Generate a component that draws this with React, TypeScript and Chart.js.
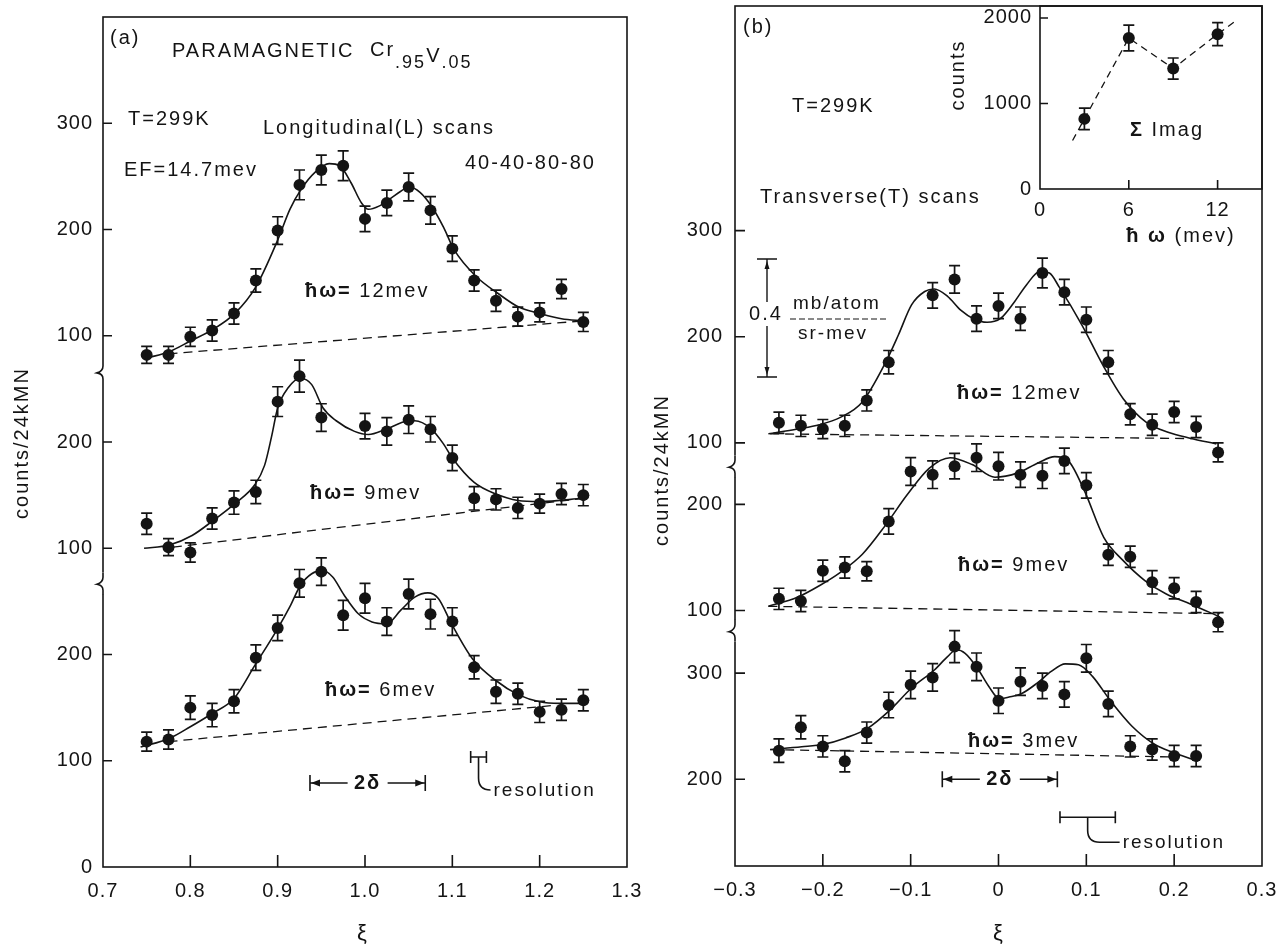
import React, { useEffect, useRef } from "react";
import { Chart, registerables } from "chart.js";

Chart.register(...registerables);

const FONT = '"Liberation Sans", Arial, Helvetica, sans-serif';
const INK = "#141414";

// ================= Panel (a): longitudinal scans =================
const XI_A = [0.75, 0.775, 0.8, 0.825, 0.85, 0.875, 0.9, 0.925, 0.95, 0.975, 1.0, 1.025, 1.05, 1.075, 1.1, 1.125, 1.15, 1.175, 1.2, 1.225, 1.25];
const XI_A9 = [0.75, 0.775, 0.8, 0.825, 0.85, 0.875, 0.9, 0.925, 0.95, 1.0, 1.025, 1.05, 1.075, 1.1, 1.125, 1.15, 1.175, 1.2, 1.225, 1.25];

// hw = 12 meV
const COUNTS_A12 = [82, 82, 99, 105, 121, 152, 199, 242, 256, 260, 210, 225, 240, 218, 182, 152, 133, 118, 122, 144, 113];
const ERR_A12 = [8, 8, 9, 10, 10, 11, 13, 14, 14, 14, 12, 12, 13, 13, 12, 10, 10, 9, 9, 9, 9];
const FIT_XI_A12 = [0.75, 0.776, 0.8, 0.826, 0.851, 0.875, 0.9, 0.914, 0.927, 0.943, 0.959, 0.971, 0.984, 0.996, 1.004, 1.016, 1.029, 1.041, 1.051, 1.063, 1.077, 1.09, 1.102, 1.127, 1.152, 1.176, 1.2, 1.225, 1.25];
const FIT_A12 = [79, 85, 95, 106, 121, 146, 190, 219, 238, 254, 262, 260, 244, 225, 219, 222, 229, 236, 240, 235, 221, 202, 181, 156, 140, 127, 121, 116, 114];
const BASE_XI_A12 = [0.775, 1.25];
const BASE_A12 = [83, 114];

// hw = 9 meV
const COUNTS_A9 = [123, 101, 96, 128, 143, 153, 238, 262, 223, 215, 210, 221, 212, 185, 147, 146, 138, 142, 151, 150];
const ERR_A9 = [10, 8, 9, 10, 11, 11, 14, 15, 13, 12, 13, 13, 12, 12, 11, 10, 10, 9, 10, 10];
const FIT_XI_A9 = [0.747, 0.776, 0.802, 0.826, 0.851, 0.874, 0.885, 0.893, 0.9, 0.912, 0.926, 0.939, 0.952, 0.967, 0.988, 1.004, 1.024, 1.045, 1.057, 1.075, 1.09, 1.1, 1.125, 1.15, 1.175, 1.2, 1.25];
const FIT_A9 = [100, 103, 112, 126, 142, 160, 178, 205, 232, 251, 260, 254, 232, 220, 210, 207, 212, 219, 220, 213, 198, 185, 162, 151, 145, 144, 147];
const BASE_XI_A9 = [0.78, 1.25];
const BASE_A9 = [101, 147];

// hw = 6 meV
const COUNTS_A6 = [118, 120, 150, 143, 156, 197, 225, 267, 278, 237, 253, 231, 257, 238, 231, 188, 165, 163, 146, 148, 157];
const ERR_A6 = [9, 9, 11, 11, 11, 12, 12, 13, 13, 14, 14, 13, 14, 14, 13, 11, 11, 10, 10, 10, 10];
const FIT_XI_A6 = [0.743, 0.776, 0.8, 0.825, 0.85, 0.874, 0.899, 0.914, 0.926, 0.939, 0.951, 0.963, 0.976, 0.992, 1.008, 1.025, 1.041, 1.057, 1.072, 1.084, 1.099, 1.123, 1.149, 1.176, 1.2, 1.223, 1.25];
const FIT_A6 = [113, 121, 132, 144.5, 158.6, 190, 223, 245, 265, 276, 279, 273, 256, 238.6, 230.7, 229, 241.7, 254, 258, 252.7, 229, 196, 176, 162, 155.5, 154, 154];
const BASE_XI_A6 = [0.775, 1.215];
const BASE_A6 = [118, 152];

const X_TICKS_A = [0.7, 0.8, 0.9, 1.0, 1.1, 1.2, 1.3];
const X_LABELS_A = ["0.7", "0.8", "0.9", "1.0", "1.1", "1.2", "1.3"];
const Y_TICKS_A = [0, 100, 200, 300, 400, 500, 600, 700];
const Y_LABELS_A = ["0", "100", "200", "100", "200", "100", "200", "300"];
const OFFSETS_A = [0, 200, 400]; // 6, 9, 12 meV scans stacked
const BREAKS_A = [267, 466];

// ================= Panel (b): transverse scans =================
const XI_B = [-0.25, -0.225, -0.2, -0.175, -0.15, -0.125, -0.1, -0.075, -0.05, -0.025, 0, 0.025, 0.05, 0.075, 0.1, 0.125, 0.15, 0.175, 0.2, 0.225, 0.25];
const XI_B12 = [-0.25, -0.225, -0.2, -0.175, -0.15, -0.125, -0.075, -0.05, -0.025, 0, 0.025, 0.05, 0.075, 0.1, 0.125, 0.15, 0.175, 0.2, 0.225, 0.25];
const XI_B3 = [-0.25, -0.225, -0.2, -0.175, -0.15, -0.125, -0.1, -0.075, -0.05, -0.025, 0, 0.025, 0.05, 0.075, 0.1, 0.125, 0.15, 0.175, 0.2, 0.225];

// hw = 12 meV
const COUNTS_B12 = [119, 116, 113, 116, 140, 176, 239, 254, 217, 229, 217, 260, 242, 216, 176, 127, 117, 129, 115, 91];
const ERR_B12 = [10, 10, 9, 10, 10, 11, 12, 13, 12, 12, 11, 14, 12, 12, 11, 10, 10, 10, 10, 9];
const FIT_XI_B12 = [-0.262, -0.229, -0.204, -0.18, -0.155, -0.129, -0.114, -0.099, -0.084, -0.073, -0.058, -0.043, -0.028, -0.013, 0.002, 0.017, 0.032, 0.047, 0.058, 0.069, 0.095, 0.119, 0.142, 0.168, 0.193, 0.218, 0.248];
const FIT_B12 = [108.5, 113, 117, 124, 138.5, 175, 201.6, 230, 242.6, 245, 238, 225, 216.7, 213.6, 217, 231.5, 249, 261.5, 260, 247, 211, 173, 141.6, 119.6, 110, 104.4, 99];
const BASE_XI_B12 = [-0.26, 0.22];
const BASE_B12 = [108.5, 104];

// hw = 9 meV
const COUNTS_B9 = [111, 109, 137.5, 140.6, 137, 184, 231, 228, 236, 244, 236, 228, 227, 241, 218, 152.5, 150.6, 126.6, 121, 108, 89];
const ERR_B9 = [10, 10, 10, 10, 9, 12, 13, 13, 12, 13, 13, 12, 12, 12, 12, 10, 10, 11, 10, 10, 9];
const FIT_XI_B9 = [-0.262, -0.229, -0.204, -0.18, -0.155, -0.129, -0.104, -0.079, -0.055, -0.03, -0.004, 0.022, 0.045, 0.064, 0.08, 0.098, 0.12, 0.142, 0.167, 0.191, 0.219, 0.252];
const FIT_B9 = [104, 112.5, 123.4, 136, 153, 180, 209, 234, 244, 237.5, 225.6, 229.7, 239, 245, 240.6, 212.5, 168.75, 147, 128, 115.6, 106, 94];
const BASE_XI_B9 = [-0.262, 0.252];
const BASE_B9 = [104, 97];

// hw = 3 meV
const COUNTS_B3 = [227, 249, 231, 217, 244, 270, 289, 296, 325, 306, 274, 292, 288, 280, 314, 271, 231, 228, 222, 222];
const ERR_B3 = [11, 11, 10, 10, 10, 12, 13, 13, 15, 13, 12, 13, 12, 12, 13, 12, 10, 10, 10, 10];
const FIT_XI_B3 = [-0.26, -0.224, -0.199, -0.174, -0.149, -0.123, -0.099, -0.073, -0.058, -0.048, -0.038, -0.024, -0.011, 0.001, 0.012, 0.026, 0.044, 0.06, 0.076, 0.091, 0.107, 0.128, 0.152, 0.178, 0.2, 0.227];
const FIT_B3 = [228, 230.6, 233, 239, 248, 265.6, 286, 303, 315.6, 322, 318.75, 304.7, 287.5, 276, 277.5, 280.6, 290.6, 301.6, 308.75, 308, 297, 273.4, 250, 232.8, 225, 217];
const BASE_XI_B3 = [-0.26, 0.2];
const BASE_B3 = [228, 221];

const X_TICKS_B = [-0.3, -0.2, -0.1, 0, 0.1, 0.2, 0.3];
const X_LABELS_B = ["\u22120.3", "\u22120.2", "\u22120.1", "0", "0.1", "0.2", "0.3"];
const Y_TICKS_B = [200, 300, 359, 459, 517, 617, 717];
const Y_LABELS_B = ["200", "300", "100", "200", "100", "200", "300"];
const OFFSETS_B = [0, 259, 417]; // 3, 9, 12 meV scans stacked
const BREAKS_B = [340, 495];

// ================= Inset: integrated intensity =================
const INSET_HW = [3, 6, 9, 12];
const INSET_COUNTS = [820, 1766, 1409, 1811];
const INSET_ERR = [126, 150, 123, 134];
const INSET_LINE_HW = [2.2, 3, 6, 9, 12, 13.1];
const INSET_LINE = [567, 820, 1766, 1409, 1811, 1950];
const INSET_X_TICKS = [0, 6, 12];
const INSET_X_LABELS = ["0", "6", "12"];
const INSET_Y_TICKS = [0, 1000, 2000];
const INSET_Y_LABELS = ["0", "1000", "2000"];

// ================= helpers =================
function pts(xs: number[], ys: number[], off: number) {
  return xs.map((x, i) => ({ x, y: ys[i] + off }));
}

function scan(xs: number[], ys: number[], errs: number[], fx: number[], fy: number[], bx: number[], by: number[], off: number) {
  return [
    {
      type: "scatter",
      data: pts(xs, ys, off),
      errors: errs,
      pointRadius: 6,
      pointBackgroundColor: INK,
      pointBorderColor: INK,
      pointBorderWidth: 0,
      showLine: false,
    },
    {
      type: "line",
      data: pts(fx, fy, off),
      borderColor: INK,
      borderWidth: 1.6,
      pointRadius: 0,
      cubicInterpolationMode: "monotone",
      fill: false,
    },
    {
      type: "line",
      data: pts(bx, by, off),
      borderColor: INK,
      borderWidth: 1.3,
      borderDash: [9, 6],
      pointRadius: 0,
      tension: 0,
      fill: false,
    },
  ];
}

function axis(min: number, max: number, ticks: number[], labels: string[], padding: number, fit: (s: any) => void) {
  return {
    type: "linear",
    min,
    max,
    afterBuildTicks: (s: any) => {
      s.ticks = ticks.map((v) => ({ value: v }));
    },
    afterFit: (s: any) => {
      fit(s);
      s.paddingTop = 0;
      s.paddingBottom = 0;
      s.paddingLeft = 0;
      s.paddingRight = 0;
    },
    ticks: {
      autoSkip: false,
      maxRotation: 0,
      minRotation: 0,
      padding,
      color: INK,
      font: { family: FONT, size: 20 },
      callback: (_v: any, i: number) => labels[i],
    },
    grid: { display: false, drawTicks: false },
    border: { display: false },
  };
}

const errorBars = {
  id: "errorBars",
  afterDatasetsDraw(chart: any) {
    const ctx = chart.ctx;
    const y = chart.scales.y;
    chart.data.datasets.forEach((ds: any, i: number) => {
      if (!ds.errors) return;
      const meta = chart.getDatasetMeta(i);
      const cap = ds.capHalf ?? 5.5;
      ctx.save();
      ctx.strokeStyle = INK;
      ctx.lineWidth = 1.7;
      ctx.beginPath();
      meta.data.forEach((el: any, j: number) => {
        const v = ds.data[j].y;
        const t = y.getPixelForValue(v + ds.errors[j]);
        const b = y.getPixelForValue(v - ds.errors[j]);
        ctx.moveTo(el.x, t);
        ctx.lineTo(el.x, b);
        ctx.moveTo(el.x - cap, t);
        ctx.lineTo(el.x + cap, t);
        ctx.moveTo(el.x - cap, b);
        ctx.lineTo(el.x + cap, b);
      });
      ctx.stroke();
      ctx.restore();
    });
  },
};

function setFont(ctx: any, size: number, bold?: boolean) {
  ctx.font = `${bold ? "bold " : ""}${size}px ${FONT}`;
}

type Seg = [string, number, boolean?, number?];
function rich(ctx: any, segs: Seg[], x: number, y: number, align: string = "left") {
  let total = 0;
  const ws = segs.map(([t, s, b]) => {
    setFont(ctx, s, b);
    const w = ctx.measureText(t).width;
    total += w;
    return w;
  });
  let cx = align === "center" ? x - total / 2 : x;
  ctx.textAlign = "left";
  ctx.textBaseline = "middle";
  segs.forEach(([t, s, b, dy], i) => {
    setFont(ctx, s, b);
    ctx.fillText(t, cx, y + (dy || 0));
    cx += ws[i];
  });
}

function vtext(ctx: any, t: string, x: number, y: number, size: number) {
  ctx.save();
  ctx.translate(x, y);
  ctx.rotate(-Math.PI / 2);
  setFont(ctx, size);
  ctx.textAlign = "center";
  ctx.textBaseline = "middle";
  ctx.fillText(t, 0, 0);
  ctx.restore();
}

function innerTicks(ctx: any, chart: any, xt: number[], yt: number[], xl: number, yl: number) {
  const { left, right, top, bottom } = chart.chartArea;
  const x = chart.scales.x;
  const y = chart.scales.y;
  ctx.beginPath();
  xt.forEach((v) => {
    const px = x.getPixelForValue(v);
    if (px - left > 3 && right - px > 3) {
      ctx.moveTo(px, bottom);
      ctx.lineTo(px, bottom - xl);
    }
  });
  yt.forEach((v) => {
    const py = y.getPixelForValue(v);
    if (bottom - py > 3 && py - top > 3) {
      ctx.moveTo(left, py);
      ctx.lineTo(left + yl, py);
    }
  });
  ctx.stroke();
}

function axisBreak(ctx: any, X: number, py: number) {
  ctx.clearRect(X - 4, py - 11, 8, 22);
  ctx.beginPath();
  ctx.moveTo(X, py - 11);
  ctx.lineTo(X, py - 6);
  ctx.quadraticCurveTo(X, py - 1, X - 6, py + 1);
  ctx.quadraticCurveTo(X, py + 2, X, py + 7);
  ctx.lineTo(X, py + 11);
  ctx.stroke();
}

function arrowHead(ctx: any, x: number, y: number, dir: number) {
  ctx.beginPath();
  ctx.moveTo(x, y);
  ctx.lineTo(x - dir * 9, y - 3.5);
  ctx.lineTo(x - dir * 9, y + 3.5);
  ctx.closePath();
  ctx.fill();
}

function twoDelta(ctx: any, x1: number, x2: number, y: number) {
  const mid = (x1 + x2) / 2;
  ctx.beginPath();
  ctx.moveTo(x1, y - 8);
  ctx.lineTo(x1, y + 8);
  ctx.moveTo(x2, y - 8);
  ctx.lineTo(x2, y + 8);
  ctx.moveTo(x1, y);
  ctx.lineTo(mid - 20, y);
  ctx.moveTo(mid + 20, y);
  ctx.lineTo(x2, y);
  ctx.stroke();
  arrowHead(ctx, x1 + 1, y, -1);
  arrowHead(ctx, x2 - 1, y, 1);
  rich(ctx, [["2\u03b4", 20, true]], mid, y, "center");
}

function resolution(ctx: any, x1: number, x2: number, y: number, drop: number, tail: number) {
  const mid = (x1 + x2) / 2;
  ctx.beginPath();
  ctx.moveTo(x1, y);
  ctx.lineTo(x2, y);
  ctx.moveTo(x1, y - 6);
  ctx.lineTo(x1, y + 6);
  ctx.moveTo(x2, y - 6);
  ctx.lineTo(x2, y + 6);
  ctx.moveTo(mid, y);
  ctx.lineTo(mid, y + drop - 12);
  ctx.quadraticCurveTo(mid, y + drop, mid + 12, y + drop);
  ctx.lineTo(mid + 12 + tail, y + drop);
  ctx.stroke();
  rich(ctx, [["resolution", 19]], mid + 15 + tail, y + drop + 1);
}

function hw(ctx: any, val: string, x: number, y: number) {
  rich(ctx, [["\u0127\u03c9=", 20, true], [" " + val, 20]], x, y);
}

function base(chart: any) {
  chart.ctx.letterSpacing = "1px";
}

// ================= chart configs =================
function panelA(): any {
  const deco = {
    id: "decoA",
    beforeDraw: base,
    afterDraw(chart: any) {
      const ctx = chart.ctx;
      const { left, right, top, bottom } = chart.chartArea;
      const x = chart.scales.x;
      const y = chart.scales.y;
      ctx.save();
      ctx.strokeStyle = INK;
      ctx.fillStyle = INK;
      ctx.lineWidth = 1.6;
      ctx.strokeRect(left, top, right - left, bottom - top);
      innerTicks(ctx, chart, X_TICKS_A, Y_TICKS_A, 12, 9);
      BREAKS_A.forEach((b) => axisBreak(ctx, left, y.getPixelForValue(b)));
      ctx.letterSpacing = "2px";
      rich(ctx, [["(a)", 20]], 110, 38);
      rich(ctx, [["PARAMAGNETIC", 20]], 172, 51);
      rich(ctx, [["Cr", 20], [".95", 18, false, 13], ["V", 20, false, 6], [".05", 18, false, 13]], 370, 50);
      rich(ctx, [["T=299K", 20]], 128, 119);
      rich(ctx, [["Longitudinal(L) scans", 20]], 263, 128);
      rich(ctx, [["EF=14.7mev", 20]], 124, 170);
      rich(ctx, [["40-40-80-80", 20]], 465, 163);
      hw(ctx, "12mev", 305, 291);
      hw(ctx, "9mev", 310, 493);
      hw(ctx, "6mev", 325, 690);
      twoDelta(ctx, x.getPixelForValue(0.937), x.getPixelForValue(1.069), y.getPixelForValue(79));
      resolution(ctx, x.getPixelForValue(1.121), x.getPixelForValue(1.139), y.getPixelForValue(103.5), 33, 0);
      vtext(ctx, "counts/24kMN", 22, 443, 20);
      rich(ctx, [["\u03be", 22]], 363, 934, "center");
      ctx.restore();
    },
  };
  return {
    type: "scatter",
    data: {
      datasets: [
        ...scan(XI_A, COUNTS_A6, ERR_A6, FIT_XI_A6, FIT_A6, BASE_XI_A6, BASE_A6, OFFSETS_A[0]),
        ...scan(XI_A9, COUNTS_A9, ERR_A9, FIT_XI_A9, FIT_A9, BASE_XI_A9, BASE_A9, OFFSETS_A[1]),
        ...scan(XI_A, COUNTS_A12, ERR_A12, FIT_XI_A12, FIT_A12, BASE_XI_A12, BASE_A12, OFFSETS_A[2]),
      ],
    },
    options: {
      responsive: false,
      animation: false,
      devicePixelRatio: 1,
      events: [],
      layout: { padding: { left: 0, right: 23, top: 17, bottom: 0 } },
      plugins: { legend: { display: false }, tooltip: { enabled: false } },
      scales: {
        x: axis(0.7, 1.3, X_TICKS_A, X_LABELS_A, 12, (s: any) => { s.height = 78; }),
        y: axis(0, 800, Y_TICKS_A, Y_LABELS_A, 10, (s: any) => { s.width = 103; }),
      },
    },
    plugins: [errorBars, deco],
  };
}

function panelB(): any {
  const OX = 640;
  const deco = {
    id: "decoB",
    beforeDraw: base,
    afterDraw(chart: any) {
      const ctx = chart.ctx;
      const { left, right, top, bottom } = chart.chartArea;
      const x = chart.scales.x;
      const y = chart.scales.y;
      ctx.save();
      ctx.strokeStyle = INK;
      ctx.fillStyle = INK;
      ctx.lineWidth = 1.6;
      ctx.strokeRect(left, top, right - left, bottom - top);
      innerTicks(ctx, chart, X_TICKS_B, Y_TICKS_B, 12, 10);
      BREAKS_B.forEach((b) => axisBreak(ctx, left, y.getPixelForValue(b)));
      ctx.letterSpacing = "2px";
      rich(ctx, [["(b)", 20]], 743 - OX, 27);
      rich(ctx, [["T=299K", 20]], 792 - OX, 106);
      rich(ctx, [["Transverse(T) scans", 20]], 760 - OX, 197);
      hw(ctx, "12mev", 957 - OX, 393);
      hw(ctx, "9mev", 958 - OX, 565);
      hw(ctx, "3mev", 968 - OX, 741);
      // scale bar 0.4 mb/atom / sr-mev
      const bx = 767 - OX;
      ctx.lineWidth = 1.4;
      ctx.beginPath();
      ctx.moveTo(bx - 10, 259);
      ctx.lineTo(bx + 10, 259);
      ctx.moveTo(bx - 10, 377);
      ctx.lineTo(bx + 10, 377);
      ctx.moveTo(bx, 259);
      ctx.lineTo(bx, 302);
      ctx.moveTo(bx, 326);
      ctx.lineTo(bx, 377);
      ctx.stroke();
      ctx.beginPath();
      ctx.moveTo(bx, 261); ctx.lineTo(bx - 2.5, 269); ctx.lineTo(bx + 2.5, 269); ctx.closePath();
      ctx.moveTo(bx, 375); ctx.lineTo(bx - 2.5, 367); ctx.lineTo(bx + 2.5, 367); ctx.closePath();
      ctx.fill();
      rich(ctx, [["0.4", 20]], 766 - OX, 314, "center");
      rich(ctx, [["mb/atom", 19]], 793 - OX, 304);
      ctx.save();
      ctx.setLineDash([6, 3]);
      ctx.lineWidth = 1.2;
      ctx.beginPath();
      ctx.moveTo(790 - OX, 319);
      ctx.lineTo(888 - OX, 319);
      ctx.stroke();
      ctx.restore();
      rich(ctx, [["sr-mev", 19]], 798 - OX, 334);
      ctx.lineWidth = 1.6;
      twoDelta(ctx, x.getPixelForValue(-0.064), x.getPixelForValue(0.067), y.getPixelForValue(200));
      resolution(ctx, x.getPixelForValue(0.07), x.getPixelForValue(0.133), y.getPixelForValue(164.3), 25, 20);
      vtext(ctx, "counts/24kMN", 662 - OX, 470, 20);
      rich(ctx, [["\u03be", 22]], 999 - OX, 934, "center");
      ctx.restore();
    },
  };
  return {
    type: "scatter",
    data: {
      datasets: [
        ...scan(XI_B3, COUNTS_B3, ERR_B3, FIT_XI_B3, FIT_B3, BASE_XI_B3, BASE_B3, OFFSETS_B[0]),
        ...scan(XI_B, COUNTS_B9, ERR_B9, FIT_XI_B9, FIT_B9, BASE_XI_B9, BASE_B9, OFFSETS_B[1]),
        ...scan(XI_B12, COUNTS_B12, ERR_B12, FIT_XI_B12, FIT_B12, BASE_XI_B12, BASE_B12, OFFSETS_B[2]),
      ],
    },
    options: {
      responsive: false,
      animation: false,
      devicePixelRatio: 1,
      events: [],
      layout: { padding: { left: 0, right: 20, top: 3, bottom: 0 } },
      plugins: { legend: { display: false }, tooltip: { enabled: false } },
      scales: {
        x: axis(-0.3, 0.3, X_TICKS_B, X_LABELS_B, 12, (s: any) => { s.height = 79; }),
        y: axis(118.3, 928.6, Y_TICKS_B, Y_LABELS_B, 12, (s: any) => { s.width = 95; }),
      },
    },
    plugins: [errorBars, deco],
  };
}

function inset(): any {
  const OX = 940;
  const deco = {
    id: "decoC",
    beforeDraw: base,
    afterDraw(chart: any) {
      const ctx = chart.ctx;
      const { left, right, top, bottom } = chart.chartArea;
      ctx.save();
      ctx.strokeStyle = INK;
      ctx.fillStyle = INK;
      ctx.lineWidth = 1.6;
      ctx.strokeRect(left, top, right - left, bottom - top);
      innerTicks(ctx, chart, INSET_X_TICKS, INSET_Y_TICKS, 9, 8);
      ctx.letterSpacing = "2px";
      vtext(ctx, "counts", 958 - OX, 75, 20);
      rich(ctx, [["\u03a3", 20, true], [" Imag", 20]], 1130 - OX, 130);
      rich(ctx, [["\u0127", 20, true], [" \u03c9", 20, true], [" (mev)", 20]], 1181 - OX, 236, "center");
      ctx.restore();
    },
  };
  return {
    type: "scatter",
    data: {
      datasets: [
        {
          type: "scatter",
          data: pts(INSET_HW, INSET_COUNTS, 0),
          errors: INSET_ERR,
          pointRadius: 6,
          pointBackgroundColor: INK,
          pointBorderWidth: 0,
        },
        {
          type: "line",
          data: pts(INSET_LINE_HW, INSET_LINE, 0),
          borderColor: INK,
          borderWidth: 1.3,
          borderDash: [7, 5],
          pointRadius: 0,
          tension: 0,
          fill: false,
        },
      ],
    },
    options: {
      responsive: false,
      animation: false,
      devicePixelRatio: 1,
      events: [],
      layout: { padding: { left: 0, right: 20, top: 3, bottom: 0 } },
      plugins: { legend: { display: false }, tooltip: { enabled: false } },
      scales: {
        x: axis(0, 15, INSET_X_TICKS, INSET_X_LABELS, 9, (s: any) => { s.height = 71; }),
        y: axis(0, 2140, INSET_Y_TICKS, INSET_Y_LABELS, 8, (s: any) => { s.width = 100; }),
      },
    },
    plugins: [errorBars, deco],
  };
}

export default function App() {
  const refA = useRef<HTMLCanvasElement | null>(null);
  const refB = useRef<HTMLCanvasElement | null>(null);
  const refC = useRef<HTMLCanvasElement | null>(null);

  useEffect(() => {
    Chart.defaults.font.family = FONT;
    const charts = [
      new Chart(refA.current as any, panelA()),
      new Chart(refB.current as any, panelB()),
      new Chart(refC.current as any, inset()),
    ];
    return () => charts.forEach((c) => c.destroy());
  }, []);

  return (
    <div style={{ position: "absolute", left: 0, top: 0, width: 1282, height: 945, background: "#fff", overflow: "hidden" }}>
      <canvas ref={refA} width={650} height={945} style={{ position: "absolute", left: 0, top: 0 }} />
      <canvas ref={refB} width={642} height={945} style={{ position: "absolute", left: 640, top: 0 }} />
      <canvas ref={refC} width={342} height={260} style={{ position: "absolute", left: 940, top: 0 }} />
    </div>
  );
}
